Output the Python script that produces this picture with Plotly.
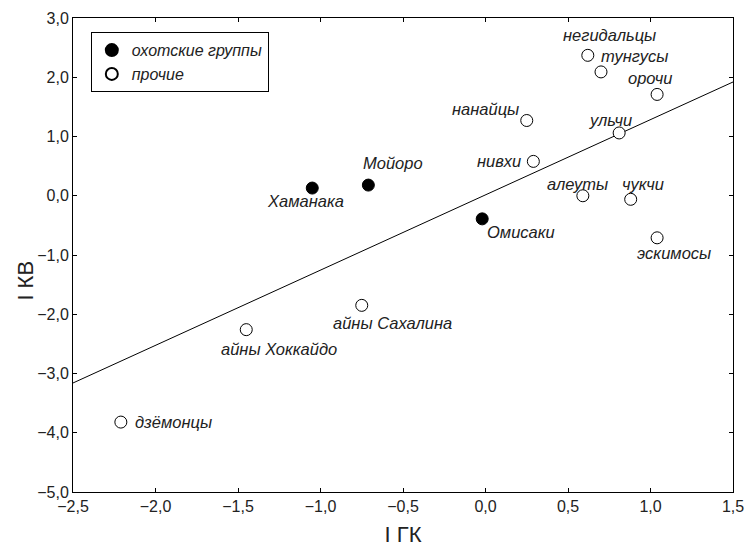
import plotly.graph_objects as go

# Data
okh_names = ["Хаманака", "Мойоро", "Омисаки"]
okh_x = [-1.05, -0.71, -0.02]
okh_y = [0.13, 0.18, -0.39]

oth_names = ["нанайцы", "нивхи", "негидальцы", "тунгусы", "орочи", "ульчи",
             "алеуты", "чукчи", "эскимосы", "айны Сахалина", "айны Хоккайдо", "дзёмонцы"]
oth_x = [0.25, 0.29, 0.62, 0.70, 1.04, 0.81, 0.59, 0.88, 1.04, -0.75, -1.45, -2.21]
oth_y = [1.27, 0.58, 2.37, 2.09, 1.71, 1.06, 0.00, -0.06, -0.71, -1.85, -2.26, -3.82]

line_x = [-2.5, 1.5]
line_y = [-3.16, 1.92]

x_ticks = [-2.5, -2.0, -1.5, -1.0, -0.5, 0.0, 0.5, 1.0, 1.5]
y_ticks = [3.0, 2.0, 1.0, 0.0, -1.0, -2.0, -3.0, -4.0, -5.0]

x_title = "I ГК"
y_title = "I КВ"

# label pixel offsets (dx, dy)
label_offsets = {
    "Хаманака": (-7, -13), "Мойоро": (25, 22), "Омисаки": (39, -13),
    "нанайцы": (-41, 12), "нивхи": (-34, 0), "негидальцы": (22, 20),
    "тунгусы": (34, 16), "орочи": (-7, 16), "ульчи": (-9, 13),
    "алеуты": (-5, 12), "чукчи": (12, 15), "эскимосы": (17, -15),
    "айны Сахалина": (31, -18), "айны Хоккайдо": (33, -19), "дзёмонцы": (53, 0),
}

FONT = "Liberation Sans, Arial, sans-serif"

fig = go.Figure()
fig.add_trace(go.Scatter(x=line_x, y=line_y, mode="lines",
                         line=dict(color="black", width=1), showlegend=False,
                         hoverinfo="skip"))
fig.add_trace(go.Scatter(x=okh_x, y=okh_y, mode="markers", name="охотские группы",
                         marker=dict(size=12, color="black", line=dict(color="black", width=1))))
fig.add_trace(go.Scatter(x=oth_x, y=oth_y, mode="markers", name="прочие",
                         marker=dict(size=12, color="white", line=dict(color="black", width=1))))

for names, xs, ys in [(okh_names, okh_x, okh_y), (oth_names, oth_x, oth_y)]:
    for n, x, y in zip(names, xs, ys):
        dx, dy = label_offsets[n]
        fig.add_annotation(x=x, y=y, xref="x", yref="y", text=n, showarrow=False,
                           xshift=dx, yshift=dy, xanchor="center", yanchor="middle",
                           font=dict(family=FONT, size=16.5, color="#222", style="italic"))

# y axis title (placed slightly below the plot centre, as in the reference)
fig.add_annotation(x=-0.072, y=0.447, xref="paper", yref="paper", text=y_title,
                   textangle=-90, showarrow=False, xanchor="center", yanchor="middle",
                   font=dict(family=FONT, size=22, color="#222"))

fig.update_layout(
    width=756, height=548,
    margin=dict(l=65, r=31, t=10, b=64),
    plot_bgcolor="white", paper_bgcolor="white",
    separators=", ",
    font=dict(family=FONT, size=16, color="#222"),
    legend=dict(x=0.027, y=0.97, xanchor="left", yanchor="top",
                bordercolor="black", borderwidth=1, bgcolor="white",
                font=dict(family=FONT, size=16, style="italic"),
                itemsizing="constant", tracegroupgap=0),
    xaxis=dict(range=[-2.5, 1.5], tickvals=x_ticks, tickformat=".1f",
               ticks="inside", ticklen=4, tickcolor="black", mirror="ticks",
               showline=True, linecolor="black", linewidth=1, showgrid=False,
               zeroline=False, automargin=False, tickfont=dict(size=16),
               ticklabeloverflow="allow",
               title=dict(text=x_title, font=dict(size=22), standoff=12)),
    yaxis=dict(range=[-5, 3], tickvals=y_ticks, tickformat=".1f",
               ticks="inside", ticklen=4, tickcolor="black", mirror="ticks",
               showline=True, linecolor="black", linewidth=1, showgrid=False,
               zeroline=False, automargin=False, tickfont=dict(size=16),
               ticklabeloverflow="allow"),
)

fig.write_html("out.html")
